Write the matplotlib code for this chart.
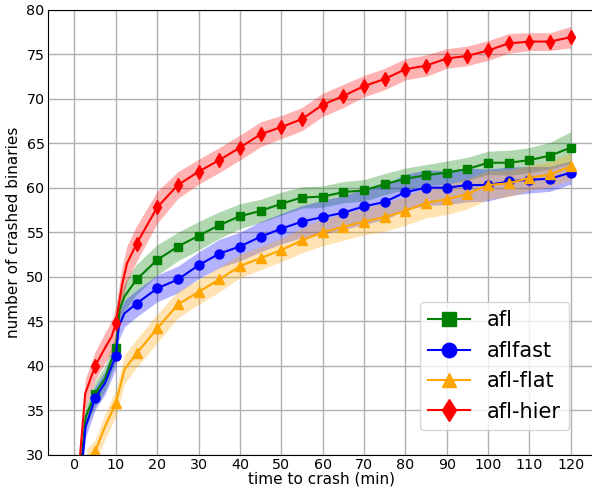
import numpy as np
from matplotlib import pyplot as plt

# Constants
FIG_W_PX = 592
FIG_H_PX = 488
DPI = 100
FONT_SIZE_TICKS = 10.3
FONT_SIZE_LABEL = 11
FONT_SIZE_LEGEND = 15

# afl-hier (red)
hier_t = [1, 2.6, 5, 7.6, 9, 10, 11.5, 12.7, 15, 20, 25, 30, 35, 40, 45, 50, 55,
          60, 65, 70, 75, 80, 85, 90, 95, 100, 105, 110, 115, 120]
hier_v = [28.0, 36.9, 40.0, 42.2, 43.3, 44.8, 49.1, 51.5, 53.7, 57.8, 60.3, 61.8,
          63.1, 64.5, 66.0, 66.8, 67.7, 69.3, 70.3, 71.4, 72.2, 73.3, 73.7, 74.5,
          74.8, 75.4, 76.2, 76.4, 76.4, 76.9]
hier_err = [1.5, 1.6, 1.6, 1.7, 1.8, 1.8, 2.0, 2.0, 2.0, 1.8, 1.5, 1.4, 1.4, 1.4,
            1.4, 1.3, 1.3, 1.3, 1.3, 1.2, 1.2, 1.2, 1.2, 1.1, 1.1, 1.1, 1.1, 1.0,
            1.0, 1.2]

# afl (green)
afl_t = [1.2, 2.7, 5, 7.4, 10, 10.9, 12.1, 15, 20, 25, 30, 35, 40, 45, 50, 55,
         60, 65, 70, 75, 80, 85, 90, 95, 100, 105, 110, 115, 120]
afl_v = [27.0, 34.3, 36.9, 38.6, 42.0, 46.3, 47.8, 49.7, 51.9, 53.4, 54.6, 55.8,
         56.8, 57.4, 58.2, 58.9, 59.0, 59.5, 59.7, 60.4, 61.0, 61.4, 61.7, 62.1,
         62.8, 62.8, 63.1, 63.6, 64.5]
afl_err = [1.0, 1.2, 1.4, 1.4, 1.5, 1.5, 1.6, 1.7, 1.7, 1.6, 1.6, 1.5, 1.4, 1.3,
           1.3, 1.2, 1.2, 1.2, 1.2, 1.2, 1.2, 1.2, 1.3, 1.3, 1.3, 1.4, 1.4, 1.5,
           1.8]

# aflfast (blue)
fast_t = [1.4, 2.7, 5, 7.4, 10, 10.7, 12.1, 15, 20, 25, 30, 35, 40, 45, 50, 55,
          60, 65, 70, 75, 80, 85, 90, 95, 100, 105, 110, 115, 120]
fast_v = [27.0, 33.2, 36.4, 38.1, 41.1, 44.4, 45.9, 47.0, 48.7, 49.7, 51.3, 52.6,
          53.4, 54.5, 55.4, 56.2, 56.7, 57.2, 57.9, 58.4, 59.5, 60.0, 60.0, 60.3,
          60.3, 60.7, 60.9, 61.0, 61.7]
fast_err = [1.0, 1.2, 1.3, 1.3, 1.4, 1.5, 1.5, 1.5, 1.5, 1.5, 1.5, 1.6, 1.6, 1.7,
            1.7, 1.8, 1.9, 1.9, 2.0, 2.0, 2.0, 2.0, 1.9, 1.9, 1.8, 1.6, 1.5, 1.4,
            1.3]

# afl-flat (orange)
flat_t = [3.0, 5, 7.4, 10, 12.1, 15, 20, 25, 30, 35, 40, 45, 50, 55, 60, 65, 70,
          75, 80, 85, 90, 95, 100, 105, 110, 115, 120]
flat_v = [29.5, 30.4, 33.2, 35.8, 39.6, 41.4, 44.2, 46.9, 48.3, 49.7, 51.2, 52.1,
          53.0, 54.1, 55.0, 55.6, 56.2, 56.7, 57.4, 58.3, 58.7, 59.3, 60.3, 60.5,
          61.1, 61.5, 62.4]
flat_err = [1.2, 1.3, 1.4, 1.5, 1.6, 1.6, 1.6, 1.5, 1.4, 1.4, 1.3, 1.3, 1.3, 1.4,
            1.5, 1.5, 1.5, 1.6, 1.6, 1.7, 1.7, 1.7, 1.6, 1.5, 1.4, 1.4, 1.5]

x_ticks = list(range(0, 121, 10))
y_ticks = list(range(30, 81, 5))

series = [
    ("afl", afl_t, afl_v, afl_err, "green", "s", 6),
    ("aflfast", fast_t, fast_v, fast_err, "blue", "o", 6.5),
    ("afl-flat", flat_t, flat_v, flat_err, "orange", "^", 6.5),
    ("afl-hier", hier_t, hier_v, hier_err, "red", "d", 7),
]


def draw_crash_plot():
    """Draw the crashed binaries over time chart and return the figure."""
    fig = plt.figure(figsize=(FIG_W_PX / DPI, FIG_H_PX / DPI), dpi=DPI)
    ax = fig.add_axes([48 / FIG_W_PX, 33 / FIG_H_PX, 546 / FIG_W_PX, 445.5 / FIG_H_PX])

    for name, t, v, err, color, marker, ms in series:
        t = np.array(t, dtype=float)
        v = np.array(v)
        err = np.array(err)
        ax.fill_between(t, v - err, v + err, color=color, alpha=0.3, linewidth=0)
        # markers only on the 5 minute marks
        mask = list(np.isclose(t % 5, 0))
        ax.plot(t, v, color=color, marker=marker, markersize=ms, linewidth=1.5,
                markevery=mask, label=name)

    ax.set_xlim(-6.4, 125.6)
    ax.set_ylim(30, 80)
    ax.set_xticks(x_ticks)
    ax.set_yticks(y_ticks)
    ax.tick_params(length=0, labelsize=FONT_SIZE_TICKS, pad=2.5)
    ax.grid(True, color="#b0b0b0", linewidth=1)
    ax.set_axisbelow(True)
    ax.set_xlabel("time to crash (min)", fontsize=FONT_SIZE_LABEL, labelpad=-1)
    ax.set_ylabel("number of crashed binaries", fontsize=FONT_SIZE_LABEL, labelpad=4)

    ax.legend(loc="lower right", fontsize=FONT_SIZE_LEGEND, markerscale=1.6,
              borderaxespad=1.2, handlelength=2)
    return fig


fig = draw_crash_plot()
fig.savefig("out.png", dpi=DPI)
plt.close(fig)
